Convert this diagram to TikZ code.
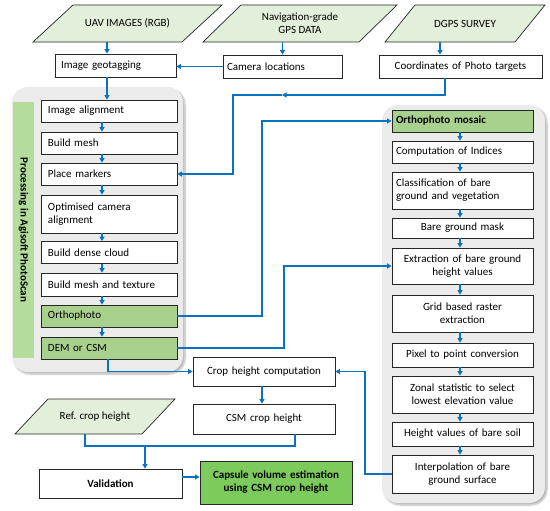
\documentclass[tikz,border=0pt]{standalone}
\usepackage{fontspec}
\setmainfont{Carlito}
\usetikzlibrary{arrows.meta,shadows.blur,calc}
\definecolor{arrblue}{HTML}{0A72BE}
\definecolor{parafill}{HTML}{E2EFDA}
\definecolor{greenbox}{HTML}{A9D18E}
\definecolor{capgreen}{HTML}{7CCB5C}
\definecolor{panelgray}{HTML}{EBEBEB}
\definecolor{barGreen}{HTML}{B4DC9C}
\newcommand\mypara[7]{%
  \draw[parastyle] (#2,#6) -- ({#2+#4},#5) -- (#3,#5) -- ({#3-#4},#6) -- cycle;
  \node[inner sep=0pt, minimum width={#3-#2-#4}, minimum height={#6-#5}, align=center] (#1) at ({(#2+#3)/2},{(#5+#6)/2}) {#7};
}
\begin{document}
\begin{tikzpicture}[x=1pt,y=-1pt,
  font=\fontsize{11}{13}\selectfont,
  parastyle/.style={draw=black!85, line width=0.7pt, fill=parafill},
  boxbase/.style={draw=black!85, line width=0.8pt, fill=white, inner sep=0pt},
  lbox/.style={boxbase, align=left},
  cbox/.style={boxbase, align=center},
  gbox/.style={fill=greenbox},
  panel/.style={fill=panelgray, rounded corners=16pt, blur shadow={shadow xshift=2pt, shadow yshift=-2pt, shadow blur steps=6, shadow opacity=30}},
  arr/.style={draw=arrblue, line width=1.4pt, -{Triangle[length=4.5pt,width=5pt]}},
  plainline/.style={draw=arrblue, line width=1.4pt}]
\useasboundingbox (0,0) rectangle (550,511);

% panels
\fill[panel] (12,87) rectangle (183,372);
\fill[panel] (382,105) rectangle (545,503);
\fill[barGreen] (13,102) rectangle (34,358);
\node[rotate=-90, font=\fontsize{11}{13}\selectfont\bfseries] (proc) at (23.5,230) {Processing in Agisoft PhotoScan};

% parallelograms
\mypara{uav}{33}{222}{40}{5}{42}{UAV IMAGES (RGB)}
\mypara{nav}{203}{397}{38}{5}{42}{Navigation-grade\\GPS DATA}
\mypara{dgps}{385}{545}{30}{5}{42}{DGPS SURVEY}
\mypara{ref}{15}{175}{33}{399}{434}{Ref. crop height}

% top row
\node[lbox, minimum width=121pt, minimum height=23pt, text width=109pt] (geo) at (115.5,65.5) {Image geotagging};
\node[lbox, minimum width=119pt, minimum height=23pt, text width=111pt] (cam) at (282.5,66.5) {Camera locations};
\node[cbox, minimum width=163pt, minimum height=23pt, text width=155pt] (coord) at (460.5,66.5) {Coordinates of Photo targets};

% left column
\tikzset{lcol/.style={lbox, minimum width=136pt, text width=122pt}}
\node[lcol, minimum height=22pt] (ia) at (109,111) {Image alignment};
\node[lcol, minimum height=22pt] (bm) at (109,143) {Build mesh};
\node[lcol, minimum height=22pt] (pm) at (109,174) {Place markers};
\node[lcol, minimum height=38pt] (oca) at (109,214) {Optimised camera\\alignment};
\node[lcol, minimum height=22pt] (bdc) at (109,252.5) {Build dense cloud};
\node[lcol, minimum height=23pt] (bmt) at (109,284.5) {Build mesh and texture};
\node[lcol, gbox, minimum height=22pt] (orth) at (109,316) {Orthophoto};
\node[lcol, gbox, minimum height=22pt] (dem) at (109,348) {DEM or CSM};

% right column
\tikzset{rcol/.style={cbox, minimum width=141pt, text width=133pt}}
\node[rcol, gbox, align=left, minimum height=22pt, font=\fontsize{11}{13}\selectfont\bfseries] (om) at (462.5,121) {Orthophoto mosaic};
\node[rcol, align=left, minimum height=22pt] (ci) at (462.5,152) {Computation of Indices};
\node[rcol, align=left, minimum height=37pt] (cl) at (462.5,190.5) {Classification of bare\\ground and vegetation};
\node[rcol, minimum height=20pt] (bgm) at (462.5,228) {Bare ground mask};
\node[rcol, minimum height=36pt] (ext) at (462.5,266) {Extraction of bare ground\\height values};
\node[rcol, minimum height=37pt] (grid) at (462.5,313.5) {Grid based raster\\extraction};
\node[rcol, minimum height=24pt] (pix) at (462.5,355) {Pixel to point conversion};
\node[rcol, minimum height=37pt] (zon) at (462.5,394.5) {Zonal statistic to select\\lowest elevation value};
\node[rcol, minimum height=24pt] (hv) at (462.5,434) {Height values of bare soil};
\node[rcol, minimum height=38pt] (interp) at (462.5,474) {Interpolation of bare\\ground surface};

% bottom
\node[cbox, minimum width=142pt, minimum height=29pt, text width=134pt] (chc) at (264,371.5) {Crop height computation};
\node[cbox, minimum width=142pt, minimum height=30pt, text width=134pt] (csm) at (264,419) {CSM crop height};
\node[cbox, minimum width=143pt, minimum height=29pt, text width=135pt, font=\fontsize{11}{13}\selectfont\bfseries] (val) at (110.5,483.5) {Validation};
\node[cbox, fill=capgreen, minimum width=152pt, minimum height=43pt, text width=146pt, font=\fontsize{11}{13}\selectfont\bfseries] (cap) at (276,482.5) {Capsule volume estimation\\using CSM crop height};

% helper coordinates
\coordinate (xa) at (107,0);
\coordinate (xl) at (102,0);
\coordinate (xr) at (460,0);
\coordinate (xd) at (440,0);
\coordinate (xc1) at (445,0);
\coordinate (mid1) at (282,95);
\coordinate (xv1) at (233,0);
\coordinate (xv2) at (262,0);
\coordinate (xv3) at (284,0);
\coordinate (xdem) at (108,0);
\coordinate (xv4) at (365,0);
\coordinate (xch) at (262,0);
\coordinate (xref) at (85,0);
\coordinate (xcsm) at (295,0);
\coordinate (yj) at (0,446);
\coordinate (xj) at (145,0);
\coordinate (yv) at (0,477);

% connectors top
\draw[arr] (uav.south -| xa) -- (geo.north -| xa);
\draw[arr] (nav.south -| cam.north) -- (cam.north);
\draw[arr] (dgps.south -| xd) -- (coord.north -| xd);
\draw[arr] (cam.west) -- (cam.west -| geo.east);
\draw[arr] (geo.south -| xa) -- (ia.north -| xa);
\draw[arr] (coord.south -| xc1) |- (mid1);
\draw[arr] (mid1) -| (xv1 |- pm.east) -- (pm.east);

% left chain
\draw[arr] (ia.south -| xl) -- (bm.north -| xl);
\draw[arr] (bm.south -| xl) -- (pm.north -| xl);
\draw[arr] (pm.south -| xl) -- (oca.north -| xl);
\draw[arr] (oca.south -| xl) -- (bdc.north -| xl);
\draw[arr] (bdc.south -| xl) -- (bmt.north -| xl);
\draw[arr] (bmt.south -| xl) -- (orth.north -| xl);
\draw[arr] (orth.south -| xl) -- (dem.north -| xl);

% right chain
\draw[arr] (om.south -| xr) -- (ci.north -| xr);
\draw[arr] (ci.south -| xr) -- (cl.north -| xr);
\draw[arr] (cl.south -| xr) -- (bgm.north -| xr);
\draw[arr] (bgm.south -| xr) -- (ext.north -| xr);
\draw[arr] (ext.south -| xr) -- (grid.north -| xr);
\draw[arr] (grid.south -| xr) -- (pix.north -| xr);
\draw[arr] (pix.south -| xr) -- (zon.north -| xr);
\draw[arr] (zon.south -| xr) -- (hv.north -| xr);
\draw[arr] (hv.south -| xr) -- (interp.north -| xr);

% cross links
\draw[arr] (orth.east) -| (xv2 |- om.west) -- (om.west);
\draw[arr] (dem.east) -| (xv3 |- ext.west) -- (ext.west);
\draw[arr] (dem.south -| xdem) |- (chc.west);
\draw[arr] (interp.west) -| (xv4 |- chc.east) -- (chc.east);
\draw[arr] (chc.south -| xch) -- (csm.north -| xch);
\draw[plainline] (ref.south -| xref) |- (xcsm |- yj) -- (csm.south -| xcsm);
\draw[arr] (xj |- yj) -- (val.north -| xj);
\draw[arr] (val.east |- yv) -- (cap.west |- yv);
\end{tikzpicture}
\end{document}
